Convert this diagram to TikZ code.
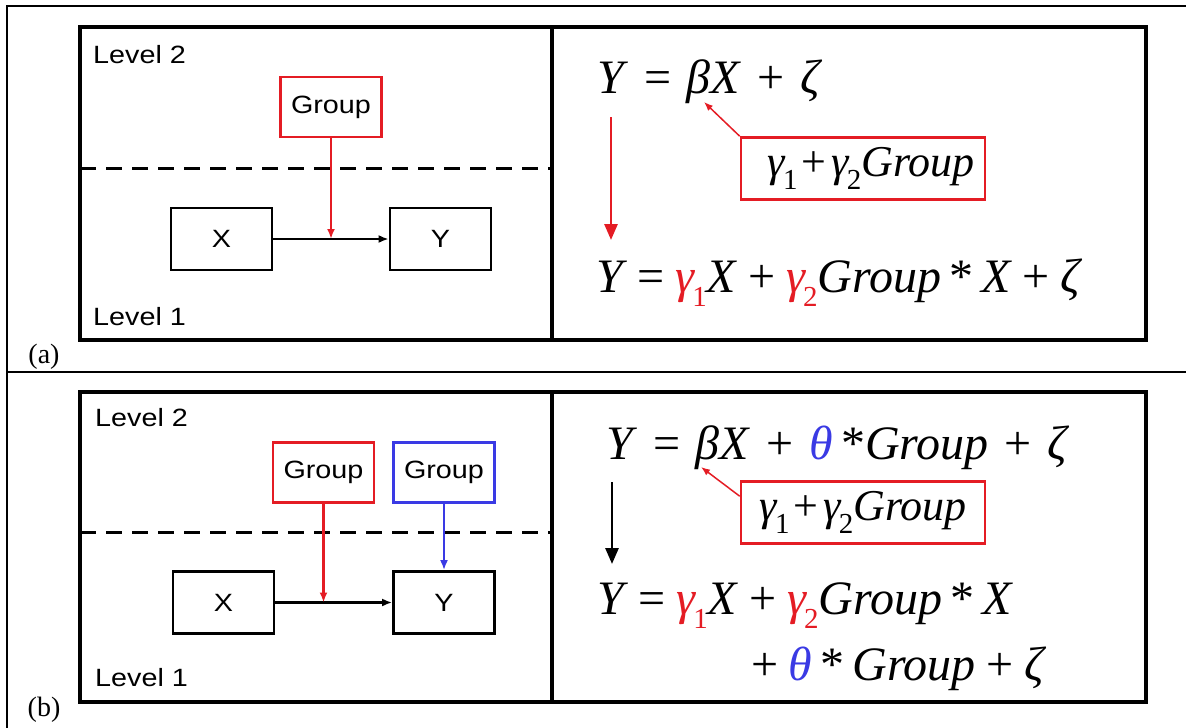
\documentclass[tikz,border=0pt]{standalone}
\usepackage{fontspec}
\setmainfont{Liberation Serif}
\setsansfont{Liberation Sans}[FakeStretch=1.15]
\usetikzlibrary{positioning,arrows.meta}
\definecolor{grpred}{RGB}{228,28,36}
\definecolor{grpblue}{RGB}{58,58,228}
% spacing around = and +, wide in the first equations, tight in the box
\newcommand{\eqop}[1]{\hspace{0.22em}#1\hspace{0.22em}}
\newcommand{\wideop}[1]{\hspace{0.33em}#1\hspace{0.33em}}
\newcommand{\thinop}[1]{\hspace{0.1em}#1\hspace{0.1em}}
\newcommand{\gsub}[2]{\textit{#1}\kern-0.06em\raisebox{-0.3em}{\fontsize{29}{29}\selectfont #2}}
\tikzset{
  panel/.style={draw,line width=3.2pt},
  levelline/.style={line width=3pt,dash pattern=on 16pt off 10pt},
  var/.style={draw,line width=2.8pt,minimum width=101pt,minimum height=62pt,inner sep=0pt,
    font=\sffamily\fontsize{25}{25}\selectfont},
  grp/.style={var,line width=2.6pt,minimum height=60pt},
  lvl/.style={anchor=west,inner sep=0pt,font=\sffamily\fontsize{25}{25}\selectfont},
  tag/.style={inner sep=0pt,font=\fontsize{28}{28}\selectfont},
  eq/.style={anchor=base west,inner sep=0pt,font=\fontsize{48}{52}\selectfont},
  gbox/.style={draw=grpred,line width=2.6pt,minimum width=244pt,minimum height=62pt,
    inner sep=0pt,font=\fontsize{44}{48}\selectfont},
  conn/.style={line width=2.2pt,-{Latex[length=10pt,width=8pt]}},
  hint/.style={grpred,line width=1.5pt,-{Latex[length=9pt,width=7pt]}}
}
\begin{document}
\begin{tikzpicture}[x=1pt,y=-1pt]
\useasboundingbox (0,0) rectangle (1186,728);
% table rules
\draw[line width=2.2pt] (7,728) -- (7,6) -- (1186,6);
\draw[line width=2.2pt] (7,372) -- (1186,372);

% ---- (a) ----
\draw[panel] (80,27) rectangle (1146,340);
\draw[panel] (552,27) -- (552,340);
\draw[levelline] (80,168) -- (552,168);
\node[lvl] (lvl2a) at (93,55) {Level 2};
\node[lvl] (lvl1a) at (93,317) {Level 1};
\node[grp,draw=grpred] (grpa) at (331,107) {Group};
\node[var] (xa) at (221.5,239) {X};
\node[var] (ya) at (440.5,239) {Y};
\draw[conn] (xa) -- (ya);
\draw[conn,grpred] (grpa) -- (grpa |- xa.east);
\node[tag] (taga) at (44,357) {(a)};

\node[eq] (eqa) at (597,93) {\textit{Y}\wideop{=}\textit{βX}\wideop{+}\textit{ζ}};
\node[gbox] (boxa) at (863,168.5) {\hspace{16pt}\gsub{γ}{1}\thinop{+}\gsub{γ}{2}\textit{Group}};
\coordinate (betaa) at (704,102);
\draw[hint] (boxa.north west) -- (betaa);
\coordinate (topa) at (611,117);
\coordinate (bota) at (611,240);
\draw[conn,grpred,line width=2.8pt,-{Triangle[length=16pt,width=13pt]}] (topa) -- (bota);
\node[eq] (eqa2) at (596,292) {\textit{Y}\eqop{=}\textcolor{grpred}{\gsub{γ}{1}}\textit{X}\eqop{+}\textcolor{grpred}{\gsub{γ}{2}}\textit{Group}\,*\,\textit{X}\eqop{+}\textit{ζ}};

% ---- (b) ----
\draw[panel] (80,392) rectangle (1146,702);
\draw[panel] (552,392) -- (552,702);
\draw[levelline] (80,532) -- (552,532);
\node[lvl] (lvl2b) at (95,418) {Level 2};
\node[lvl] (lvl1b) at (95,678) {Level 1};
\node[grp,draw=grpred] (grpb) at (323.5,472.5) {Group};
\node[grp,draw=grpblue] (grpc) at (444,472.5) {Group};
\node[var] (xb) at (223.5,602.5) {X};
\node[var] (yb) at (444,602.5) {Y};
\draw[conn] (xb) -- (yb);
\draw[conn,grpred] (grpb) -- (grpb |- xb.east);
\draw[conn,grpblue] (grpc) -- (yb);
\node[tag] (tagb) at (44,710) {(b)};

\node[eq] (eqb) at (606,459) {\textit{Y}\wideop{=}\textit{βX}\wideop{+}\textcolor{grpblue}{\textit{θ}}\,*\textit{Group}\wideop{+}\textit{ζ}};
\node[gbox] (boxb) at (863,512.5) {\gsub{γ}{1}\thinop{+}\gsub{γ}{2}\textit{Group}};
\coordinate (betab) at (701,467);
\draw[hint] ([yshift=-16pt]boxb.north west) -- (betab);
\coordinate (topb) at (612,482);
\coordinate (botb) at (612,564);
\draw[conn,line width=2.8pt,-{Triangle[length=16pt,width=13pt]}] (topb) -- (botb);
\node[eq] (eqb2) at (597,614) {\textit{Y}\eqop{=}\textcolor{grpred}{\gsub{γ}{1}}\textit{X}\eqop{+}\textcolor{grpred}{\gsub{γ}{2}}\textit{Group}\,*\,\textit{X}};
\node[eq] (eqb3) at (751,680) {+\hspace{0.22em}\textcolor{grpblue}{\textit{θ}}\,*\,\textit{Group}\eqop{+}\textit{ζ}};
\end{tikzpicture}
\end{document}
